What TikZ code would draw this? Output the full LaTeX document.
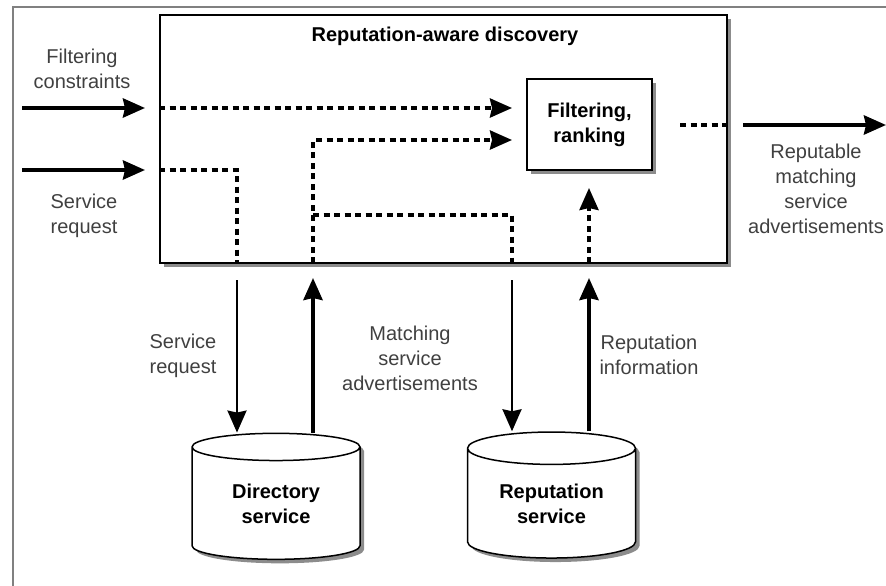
\documentclass[tikz,border=0pt]{standalone}
\usepackage{fontspec}
\setmainfont{Liberation Sans}
\usetikzlibrary{arrows.meta,shapes.geometric,shadows}

\tikzset{
  shadowed/.style={drop shadow={shadow xshift=4pt,shadow yshift=-4pt,fill=black!45,opacity=1}},
  boldtext/.style={font=\fontsize{20}{25}\selectfont\bfseries},
  bigarrow/.style={draw=black,line width=4pt,-{Stealth[length=22pt,width=19pt,inset=2pt]}},
  uparrow/.style={draw=black,line width=4pt,-{Stealth[length=22pt,width=19pt,inset=2pt]}},
  downarrow/.style={draw=black,line width=2.5pt,-{Stealth[length=22pt,width=19pt,inset=2pt]}},
  dashline/.style={draw=black,line width=3.5pt,dash pattern=on 6pt off 4.5pt},
  dasharrow/.style={dashline,-{Stealth[length=22pt,width=19pt,inset=2pt]}},
}

\begin{document}
\begin{tikzpicture}[x=1pt,y=-1pt,font=\fontsize{20}{25}\selectfont]
\useasboundingbox (0,0) rectangle (886,586);
\draw[black!50,line width=1.5pt] (13,586) |- (886,7);

\begin{scope}[every node/.style={draw=black,fill=white,line width=2pt,inner sep=0pt,align=center,shadowed}]
    \node (disc)[minimum width=567pt,minimum height=248pt] at (443.5,139) {};
    \node (filt)[boldtext,minimum width=125pt,minimum height=91pt] at (589.5,124.5) {Filtering,\\ranking};
    \node (dir)[boldtext,cylinder,shape border rotate=90,aspect=0.31,line width=1.5pt,
                minimum width=168pt,minimum height=126pt] at (276,503.5) {Directory\\service};
    \node (rep)[boldtext,cylinder,shape border rotate=90,aspect=0.31,line width=1.5pt,
                minimum width=168pt,minimum height=126pt] at (551.5,503.5) {Reputation\\service};
\end{scope}
\node (title)[boldtext] at (445,36) {Reputation-aware discovery};

\coordinate (fc) at (22,108);
\coordinate (sr) at (22,170);
\coordinate (out) at (886,125);
\coordinate (oc) at (680,125);
\coordinate (dq) at (237,263);
\coordinate (da) at (313,263);
\coordinate (rq) at (512,263);
\coordinate (ri) at (589,263);
\coordinate (br) at (313,215);
\coordinate (in1) at (527,108);
\coordinate (in2) at (527,140);

% inside the discovery box
\draw[bigarrow,shorten >=14pt] (fc) -- (fc -| disc.west);
\draw[bigarrow,shorten >=14pt] (sr) -- (sr -| disc.west);
\draw[dasharrow,shorten >=15pt] (fc -| disc.west) -- (in1);
\draw[dashline] (sr -| disc.west) -| (dq);
\draw[dasharrow,shorten >=15pt] (da) |- (in2);
\draw[dashline] (br) -| (rq);
\draw[dasharrow,shorten >=17pt] (ri) -- (ri |- filt.south);
\draw[dashline] (oc) -- (oc -| disc.east);
\draw[bigarrow,shorten <=15pt] (oc -| disc.east) -- (out);

% to and from the services
\draw[downarrow,shorten <=17pt] (dq) -- (dq |- dir.north);
\draw[uparrow,shorten >=15pt] (da |- dir.north) -- (da);
\draw[downarrow,shorten <=17pt] (rq) -- (rq |- rep.north);
\draw[uparrow,shorten >=15pt] (ri |- rep.north) -- (ri);

\begin{scope}[every node/.style={align=center,text=black!75}]
    \node (fclab) at (82,69) {Filtering\\constraints};
    \node (srlab) at (84,216) {Service\\request};
    \node (outlab) at (816,189) {Reputable\\matching\\service\\advertisements};
    \node (dqlab) at (183,356) {Service\\request};
    \node (dalab) at (410,358) {Matching\\service\\advertisements};
    \node (rilab) at (649,355) {Reputation\\information};
\end{scope}
\end{tikzpicture}
\end{document}
